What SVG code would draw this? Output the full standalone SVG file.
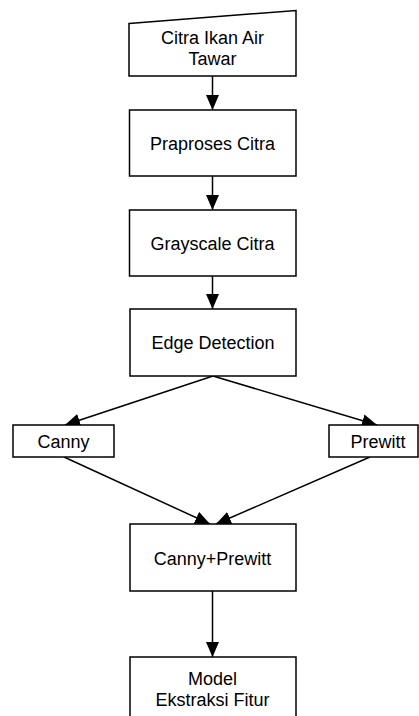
<svg xmlns="http://www.w3.org/2000/svg" width="419" height="716" viewBox="0 0 419 716">
<style>
.box{fill:#fff;stroke:#000;stroke-width:1.5}
.lbl{font-family:"Liberation Sans",Arial,sans-serif;font-size:18px;fill:#000;text-anchor:middle}
.con{stroke:#000;stroke-width:1.5;fill:none;marker-end:url(#ah)}
</style>
<defs>
<marker id="ah" markerUnits="userSpaceOnUse" markerWidth="16" markerHeight="14" refX="15" refY="6.5" orient="auto">
<path d="M0,0 L15,6.5 L0,13 Z" fill="#000"/>
</marker>
</defs>
<rect width="419" height="716" fill="#fff"/>
<g id="connectors">
<line class="con" x1="212.5" y1="76" x2="212.5" y2="110"/>
<line class="con" x1="212.5" y1="176" x2="212.5" y2="210"/>
<line class="con" x1="212.5" y1="276" x2="212.5" y2="309"/>
<line class="con" x1="213" y1="376" x2="65" y2="425"/>
<line class="con" x1="213" y1="376" x2="377" y2="425"/>
<line class="con" x1="64" y1="457" x2="210" y2="524"/>
<line class="con" x1="370" y1="457" x2="216" y2="524"/>
<line class="con" x1="212.5" y1="591" x2="212.5" y2="657"/>
</g>
<g id="citra">
<polygon class="box" points="129,23.5 296,10.5 296,76 129,76"/>
<text class="lbl" x="212.5" y="43.5">Citra Ikan Air</text>
<text class="lbl" x="212.5" y="64.5">Tawar</text>
</g>
<g id="praproses">
<rect class="box" x="129.5" y="110" width="166.5" height="66"/>
<text class="lbl" x="212.5" y="150">Praproses Citra</text>
</g>
<g id="grayscale">
<rect class="box" x="129.5" y="210" width="166.5" height="66"/>
<text class="lbl" x="212.5" y="250">Grayscale Citra</text>
</g>
<g id="edge">
<rect class="box" x="130" y="309" width="166" height="67"/>
<text class="lbl" x="213" y="349">Edge Detection</text>
</g>
<g id="canny">
<rect class="box" x="13" y="425" width="101" height="32"/>
<text class="lbl" x="63.5" y="448">Canny</text>
</g>
<g id="prewitt">
<rect class="box" x="329" y="425" width="89" height="32"/>
<text class="lbl" x="378" y="448">Prewitt</text>
</g>
<g id="cannyprewitt">
<rect class="box" x="130" y="524" width="166" height="67"/>
<text class="lbl" x="212.5" y="564.5">Canny+Prewitt</text>
</g>
<g id="model">
<rect class="box" x="130" y="657" width="166" height="70"/>
<text class="lbl" x="212.5" y="685">Model</text>
<text class="lbl" x="212.5" y="705.5">Ekstraksi Fitur</text>
</g>
</svg>
